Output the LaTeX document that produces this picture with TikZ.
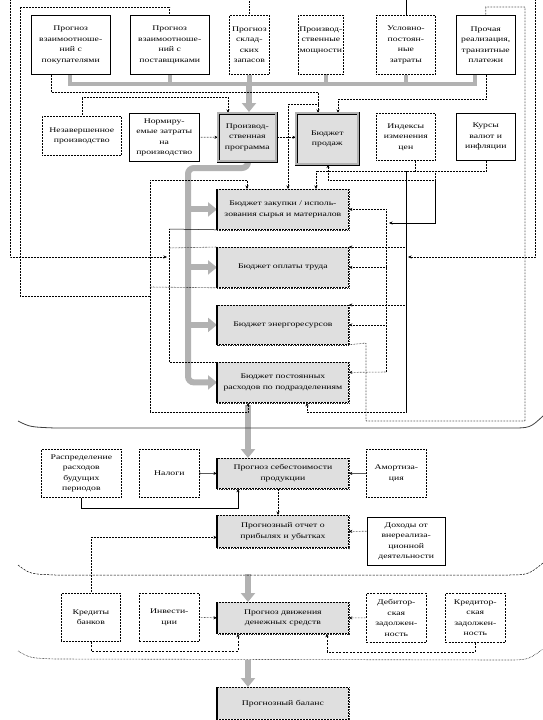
\documentclass[tikz,border=0pt]{standalone}
\usepackage{fontspec}
\setmainfont{Liberation Serif}[FakeStretch=1.35]
\usetikzlibrary{arrows.meta}
\pgfdeclarelayer{bg}
\pgfsetlayers{bg,main}
\newcommand\bx[7]{\pgfmathsetmacro\bw{#5-#3}\pgfmathsetmacro\bh{#6-#4}%
  \node[#2, minimum width=\bw pt, minimum height=\bh pt, anchor=north west] (#1) at (#3,#4) {#7};}
\begin{document}
\begin{tikzpicture}[x=1pt,y=-1pt,
  box/.style={draw, fill=white, inner sep=0pt, align=center, font=\fontsize{7.2}{10.5}\selectfont, line width=.5pt},
  sbox/.style={box},
  dbox/.style={box, densely dotted, line width=.7pt},
  dabox/.style={box, dash pattern=on 2pt off 1.2pt, line width=.6pt},
  gbox/.style={box, fill=gray!25, densely dotted, line width=.8pt},
  pbox/.style={box, fill=gray!25, double=gray!60, double distance=2pt, line width=.6pt},
  ln/.style={line width=.5pt},
  dl/.style={ln, densely dotted, line width=.6pt},
  dsh/.style={ln, dash pattern=on 2.2pt off 1.3pt},
  arr/.style={-{Stealth[length=3.5pt,width=3pt]}},
  gline/.style={draw=gray!60, line width=4.5pt},
  garrow/.style={draw=gray!60, line width=6pt, -{Triangle[length=9pt,width=14pt]}}]
\useasboundingbox (0,0) rectangle (543,720);
% top row
\bx{b1}{sbox}{31}{15}{110}{74}{Прогноз\\взаимоотноше-\\ний с\\покупателями}
\bx{b2}{sbox}{130}{15}{209}{74}{Прогноз\\взаимоотноше-\\ний с\\поставщиками}
\bx{b3}{dbox}{229}{15}{269}{74}{Прогноз\\склад-\\ских\\запасов}
\bx{b4}{dbox}{298}{15}{343}{74}{Производ-\\ственные\\мощности\\ }
\bx{b5}{dbox}{376}{15}{435}{74}{Условно-\\постоян-\\ные\\затраты}
\bx{b6}{sbox}{456}{15}{515}{74}{Прочая\\реализация,\\транзитные\\платежи}
% second row
\bx{nz}{dbox}{42}{116}{121}{155}{Незавершенное\\производство}
\bx{nr}{sbox}{129}{113}{199}{161}{Нормиру-\\емые затраты\\на\\производство}
\bx{pp}{pbox}{218}{113}{276}{161}{Производ-\\ственная\\программа}
\bx{bs}{pbox}{296}{113}{358}{164}{Бюджет\\продаж}
\bx{ic}{dbox}{376}{113}{435}{160}{Индексы\\изменения\\цен}
\bx{kv}{sbox}{456}{113}{515}{160}{Курсы\\валют и\\инфляции}
% budgets
\bx{u1}{gbox}{217}{189}{348}{229}{Бюджет закупки / исполь-\\зования сырья и материалов}
\bx{u2}{gbox}{217}{247}{348}{287}{Бюджет оплаты труда}
\bx{u3}{gbox}{217}{305}{348}{344}{Бюджет энергоресурсов}
\bx{u4}{gbox}{217}{362}{348}{402}{Бюджет постоянных\\расходов по подразделениям}
% bottom part
\bx{rb}{dbox}{41}{449}{121}{497}{Распределение\\расходов\\будущих\\периодов}
\bx{nl}{dbox}{139}{449}{199}{497}{Налоги}
\bx{ps}{gbox}{217}{458}{348}{488}{Прогноз себестоимости\\продукции}
\bx{am}{dbox}{366}{449}{426}{497}{Амортиза-\\ция}
\bx{po}{gbox}{217}{515}{348}{547}{Прогнозный отчет о\\прибылях и убытках}
\bx{dv}{sbox}{367}{517}{445}{565}{Доходы от\\внереализа-\\ционной\\деятельности}
\bx{kb}{dbox}{61}{593}{120}{641}{Кредиты\\банков}
\bx{in}{dabox}{139}{593}{199}{641}{Инвести-\\ции}
\bx{pd}{gbox}{217}{602}{348}{633}{Прогноз движения\\денежных средств}
\bx{db}{dabox}{366}{593}{426}{642}{Дебитор-\\ская\\задолжен-\\ность}
\bx{kr}{dabox}{445}{593}{505}{642}{Кредитор-\\ская\\задолжен-\\ность}
\bx{pb}{gbox}{217}{687}{348}{719}{Прогнозный баланс}
% decorations of grey boxes
\foreach \n in {u1,u2,u3,u4,ps,po,pd,pb}{
  \draw[line width=1.6pt] (\n.north west) -- (\n.south west);
  \draw[line width=1.4pt, densely dotted, black!85] ([xshift=.8pt]\n.north east) -- ([xshift=.8pt,yshift=-.8pt]\n.south east) -- ([yshift=-.8pt]\n.south west);
}
\coordinate (gx) at (188,0);
\coordinate (rx) at (386,0);
\coordinate (ga) at (248,0);
\begin{pgfonlayer}{bg}
% grey bus at top
\draw[gline] (70,74) -- (70,84) -- (475,84) -- (475,74);
\draw[gline] (b2.south) -- (b2.south |- 0,84);
\draw[gline] (b3.south) -- (b3.south |- 0,84);
\draw[gline] (326,74) -- (326,84);
\draw[gline] (b5.south) -- (b5.south |- 0,84);
\draw[garrow] (249,82) -- (249,112);
% grey trunk to budgets
\draw[garrow, rounded corners=6pt] (248,161) -- (248,168) -- (188,168) -- (gx |- u4.west) -- (u4.west);
\draw[garrow] (gx |- u1.west) -- (u1.west);
\draw[garrow] (gx |- u2.west) -- (u2.west);
\draw[garrow] (gx |- u3.west) -- (u3.west);
% grey arrows lower
\draw[garrow] (248,405) -- (ga |- ps.north);
\draw[garrow] (248,574) -- (ga |- pd.north);
\draw[garrow] (248,660) -- (ga |- pb.north);
% top connectors
\draw[dl,arr] (10,0) |- (167,257);
\draw[dl] (b2.north) |- (20,7) -- (20,296) -- (150,296);
\draw[dl] (b3.north) -- ++(0,-15);
\draw[ln] (b5.north) -- ++(0,-15);
\draw[dl] (b6.north) |- (525,7) -- (525,421) -- (366,421) -- (366,343) -- (u3.south east);
\draw[dl,arr] (535,0) |- (408,257);
% upper middle
\draw[dl,arr] ([xshift=20pt]b1.south west) |- (318,92) -- ([xshift=22pt]bs.north west);
\draw[dl,arr] (318,104) -| ([xshift=71pt]u1.north west);
\draw[dl,arr] ([xshift=30pt]b6.south west) |- (338,99) -- ([xshift=42pt]bs.north west);
\draw[dl,arr] (nz.north) |- (228,97) -- ([xshift=10pt]pp.north west);
\draw[dl,arr] (nr.east) -- (pp.west);
\draw[dl,arr] (pp.east) -- (pp.east -| bs.west);
% right side
\draw[dl,arr] ([xshift=39pt]ic.south west) |- (316,171) -- ([xshift=99pt]u1.north west);
\draw[dl] ([xshift=30pt]kv.south west) |- (415,171);
\draw[dl,arr] (435,171) |- (328,180) -- ([xshift=32pt]bs.south west);
\draw[ln,arr] (435,180) |- (389,223);
\draw[ln] (406,171) -- (406,412);
\draw[dl,arr] (406,305) -- (u3.north east);
\draw[dl,arr] (406,247) -- (u2.north east);
\draw[dl,arr] (406,412) -| ([xshift=90pt]u4.south west);
\draw[dl] (rx |- u1.east) -- (386,372);
\draw[dl,arr] (rx |- u1.east) -- (u1.east);
\draw[dl,arr] (rx |- u2.east) -- (u2.east);
\draw[dl,arr] (rx |- u3.east) -- (u3.east);
\draw[dl,arr] (386,372) -- ([yshift=10pt]u4.east);
% left side
\draw[dl,arr] (150,180) -| ([xshift=30pt]u1.north west);
\draw[dl] (150,180) -- (150,412);
\draw[dl,arr] (150,412) -| ([xshift=31pt]u4.south west);
\draw[dl] (150,287) -- (u2.south west);
\draw[ln] (169,229) -- (u1.south west);
\draw[dl] (169,229) -- (169,362) -- (u4.north west);
\draw[dl] (169,248) -- (u2.north west);
% bottom connectors
\draw[ln, {Bar[width=4pt]}-{Stealth[length=3.5pt,width=3pt]}] (nl.east) -- (ps.west);
\draw[ln,arr] (rb.south) |- (238,508) -- ([xshift=21pt]ps.south west);
\draw[ln,arr] (am.west) -- (ps.east);
\draw[dl,arr] ([xshift=61pt]ps.south west) -- ([xshift=61pt]po.north west);
\draw[dl,arr] ([yshift=10pt]dv.west) -- (po.east);
\draw[dl,arr] (kb.north) |- ([yshift=-6pt]po.west);
\draw[dl,arr] (in.east) -- (pd.west);
\draw[dsh,arr] (kb.south) |- (238,651) -- ([xshift=21pt]pd.south west);
\draw[dl,arr] (db.west) -- (pd.east);
\draw[dsh,arr] (kr.south) |- (327,652) -- ([xshift=110pt]pd.south west);
% separators
\draw[line width=.8pt, gray!50!black] (18,421) .. controls (30,427) .. (55,428) -- (510,428) .. controls (530,428) .. (543,416);
\draw[dsh] (18,565) .. controls (30,574) .. (55,575) -- (505,575) .. controls (528,575) .. (543,563);
\draw[dl] (18,651) .. controls (30,658) .. (55,659) -- (505,660) .. controls (528,660) .. (543,649);
\end{pgfonlayer}
\end{tikzpicture}
\end{document}
